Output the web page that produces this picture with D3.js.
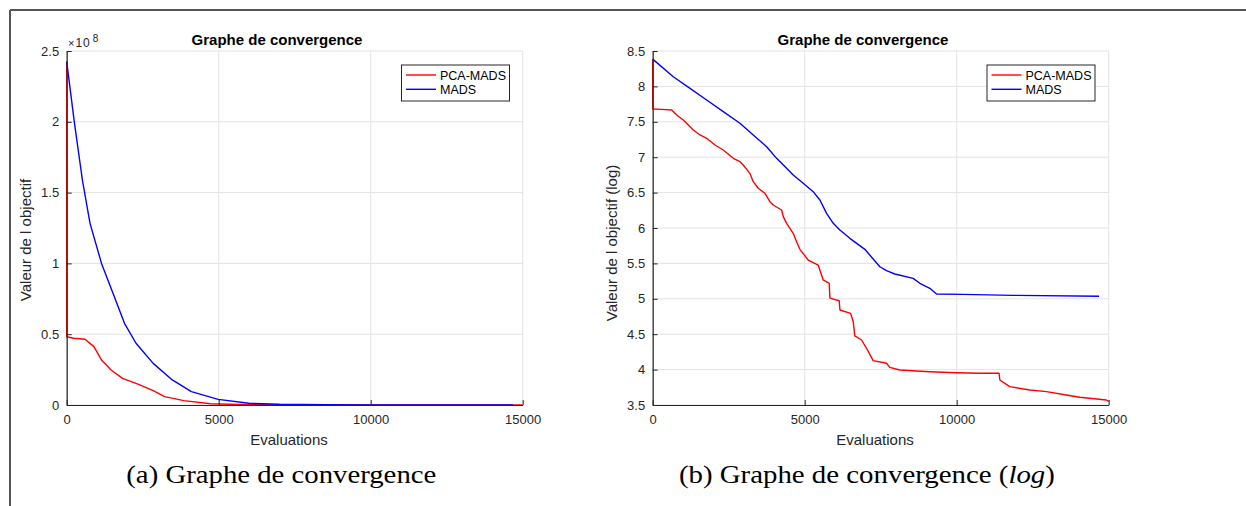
<!DOCTYPE html>
<html>
<head>
<meta charset="utf-8">
<script src="https://cdn.jsdelivr.net/npm/d3@7"></script>
<style>
  html, body { margin: 0; padding: 0; background: #fff; }
  svg { display: block; }
</style>
</head>
<body>
<svg id="chart" width="1246" height="506"></svg>
<script>
// ---------------- data ----------------
const xTicks = [0, 5000, 10000, 15000];
const yTicksLin = [0, 0.5, 1, 1.5, 2, 2.5];
const yTicksLog = [3.5, 4, 4.5, 5, 5.5, 6, 6.5, 7, 7.5, 8, 8.5];
const seriesNames = ["PCA-MADS", "MADS"];
const seriesColors = ["#ff0000", "#0000ff"];

// (a) linear plot, objective in units of 1e8
const evalsLinPCA = [0, 0, 227, 602, 894, 1145, 1459, 1838, 2342, 2845, 3221, 3852, 4730, 5990, 8000, 15000];
const valLinPCA   = [2.425, 0.482, 0.471, 0.464, 0.412, 0.318, 0.247, 0.188, 0.148, 0.101, 0.059, 0.031, 0.009, 0.002, 0.0001, 0.00004];
const evalsLinMADS = [0, 250, 516, 767, 1145, 1523, 1901, 2280, 2845, 3474, 4102, 4983, 5990, 7000, 8500, 10000, 12000, 14682];
const valLinMADS   = [2.425, 2.0, 1.589, 1.283, 1.0, 0.789, 0.577, 0.436, 0.294, 0.177, 0.094, 0.04, 0.012, 0.005, 0.002, 0.0012, 0.0011, 0.0011];

// (b) log10 plot
const evalsLogMADS = [0, 677, 1227, 1775, 2321, 2870, 3307, 3748, 4076, 4405, 4622, 4951, 5279, 5500, 5720, 5939, 6157, 6486, 6979, 7472, 7691, 7965, 8568, 8787, 9116, 9336, 10210, 11854, 14682];
const valLogMADS   = [8.385, 8.137, 7.973, 7.808, 7.643, 7.479, 7.314, 7.148, 6.984, 6.843, 6.749, 6.631, 6.513, 6.395, 6.207, 6.066, 5.972, 5.854, 5.699, 5.453, 5.397, 5.35, 5.289, 5.219, 5.148, 5.068, 5.063, 5.049, 5.035];
const evalsLogPCA = [0, 0, 300, 624, 789, 1006, 1335, 1556, 1775, 2049, 2321, 2650, 2870, 2978, 3197, 3307, 3472, 3692, 3857, 3964, 4240, 4295, 4405, 4622, 4733, 4841, 5115, 5444, 5609, 5806, 5830, 6135, 6160, 6510, 6596, 6650, 6870, 7035, 7252, 7691, 7800, 8129, 9116, 9993, 10760, 11394, 11420, 11745, 12403, 12951, 13609, 14047, 14924, 15000];
const valLogPCA   = [8.385, 7.68, 7.675, 7.667, 7.596, 7.525, 7.384, 7.314, 7.267, 7.172, 7.102, 6.984, 6.937, 6.89, 6.772, 6.654, 6.561, 6.49, 6.372, 6.325, 6.254, 6.16, 6.066, 5.925, 5.807, 5.699, 5.548, 5.477, 5.266, 5.219, 5.01, 4.973, 4.842, 4.795, 4.677, 4.475, 4.418, 4.301, 4.126, 4.089, 4.032, 3.994, 3.97, 3.956, 3.948, 3.948, 3.853, 3.759, 3.712, 3.689, 3.641, 3.609, 3.571, 3.55];

// ---------------- drawing ----------------
const svg = d3.select("#chart");
const SANS = "'Liberation Sans', Arial, Helvetica, sans-serif";
const SERIF = "'Liberation Serif', 'DejaVu Serif', serif";
const AXC = "#262626";
const GRID = "#e3e3e3";

// outer frame
svg.append("line").attr("x1", 10).attr("x2", 1246).attr("y1", 10).attr("y2", 10).attr("stroke", "#555").attr("stroke-width", 2);
svg.append("line").attr("x1", 10).attr("x2", 10).attr("y1", 10).attr("y2", 506).attr("stroke", "#555").attr("stroke-width", 2);

const zip = (a, b) => a.map((e, i) => [e, b[i]]);
const seriesLin = [zip(evalsLinPCA, valLinPCA), zip(evalsLinMADS, valLinMADS)];
const seriesLog = [zip(evalsLogPCA, valLogPCA), zip(evalsLogMADS, valLogMADS)];

function panel(cfg) {
  const x = d3.scaleLinear().domain([0, 15000]).range([cfg.x0, cfg.x0 + 456]);
  const y = d3.scaleLinear().domain(cfg.yDomain).range([405, 51]);
  const g = svg.append("g");

  // grid
  g.selectAll(".gx").data(cfg.xTicks).enter().append("line")
    .attr("x1", d => x(d)).attr("x2", d => x(d)).attr("y1", 51).attr("y2", 405)
    .attr("stroke", GRID).attr("stroke-width", 1);
  g.selectAll(".gy").data(cfg.yTicks).enter().append("line")
    .attr("x1", x(0)).attr("x2", x(15000)).attr("y1", d => y(d)).attr("y2", d => y(d))
    .attr("stroke", GRID).attr("stroke-width", 1);

  // lines
  const line = d3.line().x(d => x(d[0])).y(d => y(d[1]));
  cfg.series.forEach((s, i) => {
    g.append("path").datum(s).attr("d", line).attr("fill", "none")
      .attr("stroke", seriesColors[i]).attr("stroke-width", 1.4).attr("stroke-linejoin", "round");
  });

  // axes (ticks inward)
  const xAxis = d3.axisBottom(x).tickValues(cfg.xTicks).tickSizeInner(-5).tickSizeOuter(0).tickPadding(10).tickFormat(d3.format("d"));
  const yAxis = d3.axisLeft(y).tickValues(cfg.yTicks).tickSizeInner(-5).tickSizeOuter(0).tickPadding(7.5).tickFormat(d => String(d));
  const gx = g.append("g").attr("transform", `translate(0,405)`).call(xAxis);
  const gy = g.append("g").attr("transform", `translate(${x(0)},0)`).call(yAxis);
  [gx, gy].forEach(a => {
    a.select(".domain").attr("stroke", AXC).attr("stroke-width", 1.2);
    a.selectAll(".tick line").attr("stroke", AXC).attr("stroke-width", 1);
    a.selectAll("text").attr("fill", AXC).style("font-family", SANS).style("font-size", "13px");
  });

  // title
  g.append("text").attr("x", cfg.titleX).attr("y", 45).attr("text-anchor", "middle")
    .style("font-family", SANS).style("font-size", "15px").style("font-weight", "bold").attr("fill", "#000")
    .text("Graphe de convergence");
  // x label
  g.append("text").attr("x", cfg.xLabX).attr("y", 445).attr("text-anchor", "middle")
    .style("font-family", SANS).style("font-size", "15px").attr("fill", AXC).text("Evaluations");
  // y label
  g.append("text").attr("transform", `translate(${cfg.yLabX},${cfg.yLabY}) rotate(-90)`).attr("text-anchor", "middle")
    .attr("dy", "0.35em")
    .style("font-family", SANS).style("font-size", "15px").attr("fill", AXC).text(cfg.yLabel);

  // legend
  const lx = cfg.legX, ly = 65;
  const lg = g.append("g");
  lg.append("rect").attr("x", lx).attr("y", ly).attr("width", 108).attr("height", 36)
    .attr("fill", "#fff").attr("stroke", AXC).attr("stroke-width", 1);
  seriesNames.forEach((n, i) => {
    const yy = ly + 10 + i * 14.3;
    lg.append("line").attr("x1", lx + 4.5).attr("x2", lx + 34.5).attr("y1", yy).attr("y2", yy)
      .attr("stroke", seriesColors[i]).attr("stroke-width", 1.4);
    lg.append("text").attr("x", lx + 38.5).attr("y", yy).attr("dy", "0.36em")
      .style("font-family", SANS).style("font-size", "12.5px").attr("fill", "#000").text(n);
  });
  return { x, y };
}

panel({ x0: 66.7, yDomain: [0, 2.5], xTicks: xTicks, yTicks: yTicksLin, series: seriesLin,
  titleX: 277, xLabX: 289, yLabX: 26, yLabY: 240, yLabel: "Valeur de l objectif", legX: 401.5 });
panel({ x0: 652.7, yDomain: [3.5, 8.5], xTicks: xTicks, yTicks: yTicksLog, series: seriesLog,
  titleX: 863, xLabX: 875, yLabX: 612, yLabY: 243, yLabel: "Valeur de l objectif (log)", legX: 987 });

// x10^8 multiplier
const mult = svg.append("text").attr("x", 68).attr("y", 46.7).style("font-family", SANS).attr("fill", AXC);
mult.append("tspan").style("font-size", "11px").text("\u00d7");
mult.append("tspan").attr("dx", 1).style("font-size", "12px").style("letter-spacing", "1px").text("10");
mult.append("tspan").attr("dx", 2).attr("dy", -4.5).style("font-size", "10px").text("8");

// captions
svg.append("text").attr("x", 281.3).attr("y", 483).attr("text-anchor", "middle")
  .style("font-family", SERIF).style("font-size", "26px").attr("fill", "#000")
  .attr("textLength", 310).attr("lengthAdjust", "spacingAndGlyphs")
  .text("(a)  Graphe de convergence");
const capB = svg.append("text").attr("x", 866.9).attr("y", 483).attr("text-anchor", "middle")
  .style("font-family", SERIF).style("font-size", "26px").attr("fill", "#000")
  .attr("textLength", 376).attr("lengthAdjust", "spacingAndGlyphs");
capB.append("tspan").text("(b)  Graphe de convergence (");
capB.append("tspan").style("font-style", "italic").text("log");
capB.append("tspan").text(")");
</script>
</body>
</html>
